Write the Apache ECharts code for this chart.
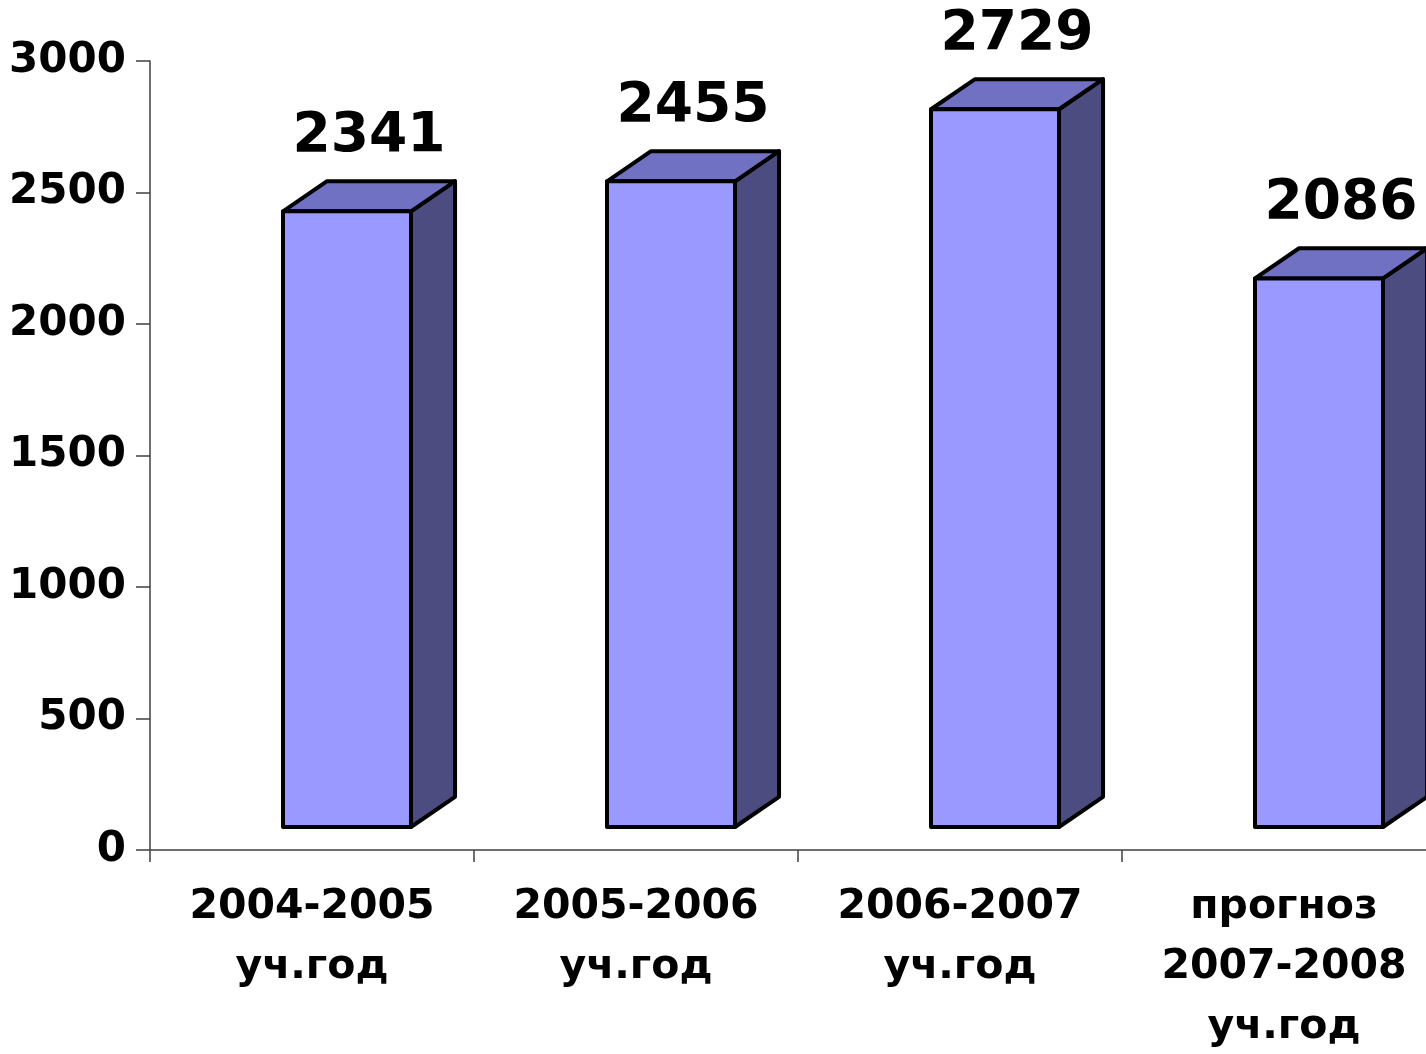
<!DOCTYPE html>
<html>
<head>
<meta charset="utf-8">
<title>chart</title>
<script src="https://cdn.jsdelivr.net/npm/echarts@6/dist/echarts.min.js"></script>
<style>
  html, body { margin: 0; padding: 0; background: #fff; }
  #chart { width: 1426px; height: 1054px; }
</style>
</head>
<body>
<div id="chart"></div>
<script>
// данные
const categories = ["2004-2005\nуч.год", "2005-2006\nуч.год", "2006-2007\nуч.год", "прогноз\n2007-2008\nуч.год"];
const values = [2341, 2455, 2729, 2086];
const yTicks = [0, 500, 1000, 1500, 2000, 2500, 3000];

const FONT = "DejaVu Sans";

function renderBar(params, api) {
  const i = api.value(0);
  const v = api.value(1);
  const top = api.coord([i, v]);
  const base = api.coord([i, 0]);
  const band = api.size([1, 0])[0];
  const w = band * 0.395;
  const off = band * 0.108;
  const dx = band * 0.136;
  const dy = band * 0.093;
  const lift = 23;
  const x0 = top[0] + off - w / 2;
  const x1 = x0 + w;
  const yt = top[1] - lift;
  const yb = base[1] - lift;
  const line = { stroke: "#000", lineWidth: 4, lineJoin: "round" };
  return {
    type: "group",
    children: [
      {
        type: "polygon",
        shape: { points: [[x1, yt], [x1 + dx, yt - dy], [x1 + dx, yb - dy], [x1, yb]] },
        style: Object.assign({ fill: "#4c4c80" }, line)
      },
      {
        type: "polygon",
        shape: { points: [[x0, yt], [x0 + dx, yt - dy], [x1 + dx, yt - dy], [x1, yt]] },
        style: Object.assign({ fill: "#7171c4" }, line)
      },
      {
        type: "rect",
        shape: { x: x0, y: yt, width: w, height: yb - yt },
        style: Object.assign({ fill: "#9999ff" }, line)
      },
      {
        type: "text",
        x: x0 + w / 2 + dx / 2,
        y: yt - 75,
        style: {
          text: String(v),
          fill: "#000",
          font: "bold 55px '" + FONT + "'",
          align: "center",
          verticalAlign: "middle"
        }
      }
    ]
  };
}

const chart = echarts.init(document.getElementById("chart"));
chart.setOption({
  backgroundColor: "#fff",
  animation: false,
  grid: { left: 150, right: -20, top: 61, bottom: 204, containLabel: false, outerBoundsMode: "none" },
  xAxis: {
    type: "category",
    data: categories,
    boundaryGap: true,
    axisLine: { lineStyle: { color: "#404040", width: 1.5 } },
    axisTick: { show: true, length: 12, alignWithLabel: false, lineStyle: { color: "#404040", width: 1.5 } },
    axisLabel: {
      interval: 0,
      margin: 27,
      color: "#000",
      fontFamily: FONT,
      fontWeight: "bold",
      fontSize: 41,
      lineHeight: 60
    },
    splitLine: { show: false }
  },
  yAxis: {
    type: "value",
    min: yTicks[0],
    max: yTicks[yTicks.length - 1],
    interval: 500,
    axisLine: { show: true, lineStyle: { color: "#404040", width: 1.5 } },
    axisTick: { show: true, length: 14, lineStyle: { color: "#404040", width: 1.5 } },
    axisLabel: {
      margin: 24,
      color: "#000",
      fontFamily: FONT,
      fontWeight: "bold",
      fontSize: 42,
      formatter: function(v) { return String(v); }
    },
    splitLine: { show: false }
  },
  series: [
    {
      type: "custom",
      clip: false,
      renderItem: renderBar,
      data: values.map((v, i) => [i, v])
    }
  ]
});
window.addEventListener("resize", function() {
  chart.resize();
});
</script>
</body>
</html>
